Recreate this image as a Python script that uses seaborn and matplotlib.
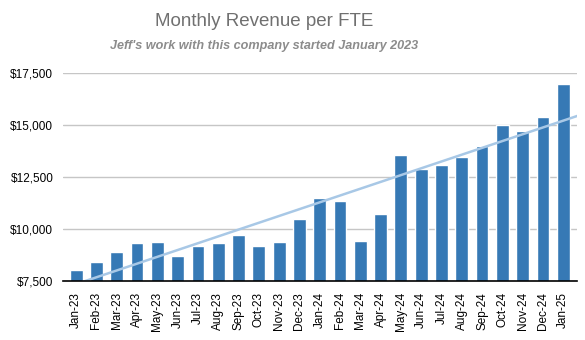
import numpy as np
import pandas as pd
import matplotlib
matplotlib.use("Agg")
import matplotlib.pyplot as plt
import seaborn as sns

months = ["Jan-23", "Feb-23", "Mar-23", "Apr-23", "May-23", "Jun-23", "Jul-23",
          "Aug-23", "Sep-23", "Oct-23", "Nov-23", "Dec-23", "Jan-24", "Feb-24",
          "Mar-24", "Apr-24", "May-24", "Jun-24", "Jul-24", "Aug-24", "Sep-24",
          "Oct-24", "Nov-24", "Dec-24", "Jan-25"]
revenue = [8030, 8410, 8890, 9330, 9380, 8700, 9180, 9330, 9710, 9180, 9380,
           10480, 11490, 11350, 9420, 10720, 13560, 12890, 13080, 13460, 13990,
           15000, 14710, 15380, 16970]
yticks = [7500, 10000, 12500, 15000, 17500]
title = "Monthly Revenue per FTE"
subtitle = "Jeff's work with this company started January 2023"

df = pd.DataFrame({"month": months, "revenue": revenue})

sns.set_theme(style="white")
plt.rcParams["font.family"] = ["Liberation Sans", "DejaVu Sans"]

fig = plt.figure(figsize=(5.85, 3.4), dpi=100)
ax = fig.add_axes([63/585, 1-281/340, (577-63)/585, (281-73)/340])

sns.barplot(data=df, x="month", y="revenue", color="#3679b5", saturation=1,
            width=0.63, ax=ax, zorder=2)

# linear trendline
xs = np.arange(len(revenue))
k, b = np.polyfit(xs, revenue, 1)
xl = np.array([-0.7, 24.7])
ax.plot(xl, k*xl + b, color="#a8c8e6", lw=1.8, zorder=3)

ax.set_xlim(-0.65, 24.68)
ax.set_ylim(7500, 17500)
ax.set_yticks(yticks)
ax.set_yticklabels([f"${v:,}" for v in yticks])
ax.yaxis.grid(True, color="#c6c6c6", lw=1, zorder=0)
ax.set_axisbelow(True)
ax.set_xlabel("")
ax.set_ylabel("")
for s in ["top", "right", "left"]:
    ax.spines[s].set_visible(False)
ax.spines["bottom"].set_color("black")
ax.spines["bottom"].set_linewidth(1.2)
ax.spines["bottom"].set_zorder(4)
ax.tick_params(axis="x", direction="inout", length=12, width=1, color="black",
               labelsize=8.5, labelcolor="black", rotation=90, pad=2)
ax.tick_params(axis="y", length=0, labelsize=8.5, labelcolor="black", pad=7)

fig.text(264/585, 1-22/340, title, ha="center", va="center", fontsize=13.5,
         color="#707070")
fig.text(264/585, 1-46/340, subtitle, ha="center", va="center", fontsize=9.1,
         color="#8c8c8c", fontweight="bold", fontstyle="italic")

fig.savefig("out.png", dpi=100)
